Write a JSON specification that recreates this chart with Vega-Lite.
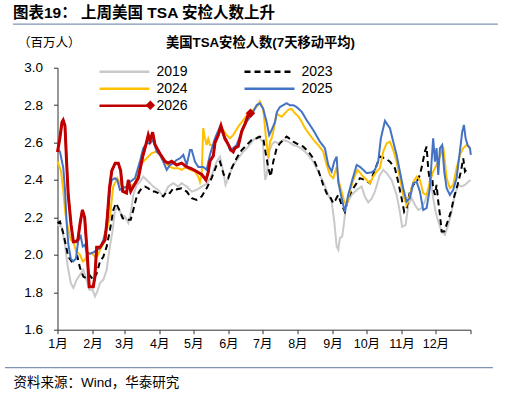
{
  "$schema": "https://vega.github.io/schema/vega-lite/v6.json",
  "width": 413,
  "height": 262,
  "autosize": {"type": "none"},
  "padding": {"left": 57.5, "top": 67.7, "right": 42.5, "bottom": 66.3},
  "background": "white",
  "title": {
    "text": "图表19：  上周美国 TSA 安检人数上升",
    "anchor": "start",
    "frame": "group",
    "dx": -44.5,
    "dy": -1.5,
    "offset": 0,
    "fontSize": 15.5,
    "fontWeight": "bold",
    "font": "Liberation Sans, Noto Sans CJK SC",
    "color": "#000000"
  },
  "datasets": {
    "tsa": [
      {"s":"2019","d":0,"v":2.16},{"s":"2019","d":3.7,"v":2.15},{"s":"2019","d":6.6,"v":2.054},{"s":"2019","d":9,"v":1.94},{"s":"2019","d":11.7,"v":1.85},{"s":"2019","d":14,"v":1.823},{"s":"2019","d":17,"v":1.867},{"s":"2019","d":19.9,"v":1.894},{"s":"2019","d":22.8,"v":1.92},{"s":"2019","d":25.2,"v":1.876},{"s":"2019","d":28.1,"v":1.814},{"s":"2019","d":31,"v":1.814},{"s":"2019","d":33.1,"v":1.778},{"s":"2019","d":35.2,"v":1.805},{"s":"2019","d":37.6,"v":1.85},{"s":"2019","d":40.5,"v":1.867},{"s":"2019","d":43.5,"v":1.92},{"s":"2019","d":45.8,"v":2.027},{"s":"2019","d":48.8,"v":2.134},{"s":"2019","d":50.8,"v":2.24},{"s":"2019","d":53.7,"v":2.25},{"s":"2019","d":56.7,"v":2.214},{"s":"2019","d":59.6,"v":2.205},{"s":"2019","d":62.6,"v":2.17},{"s":"2019","d":64.7,"v":2.223},{"s":"2019","d":67,"v":2.32},{"s":"2019","d":70,"v":2.374},{"s":"2019","d":72.9,"v":2.39},{"s":"2019","d":75.8,"v":2.418},{"s":"2019","d":78.8,"v":2.4},{"s":"2019","d":81.7,"v":2.383},{"s":"2019","d":84.6,"v":2.365},{"s":"2019","d":89,"v":2.347},{"s":"2019","d":93.5,"v":2.312},{"s":"2019","d":97.9,"v":2.365},{"s":"2019","d":102.3,"v":2.383},{"s":"2019","d":106.7,"v":2.365},{"s":"2019","d":109.7,"v":2.383},{"s":"2019","d":114.2,"v":2.365},{"s":"2019","d":118.6,"v":2.338},{"s":"2019","d":123,"v":2.347},{"s":"2019","d":127.4,"v":2.365},{"s":"2019","d":132,"v":2.38},{"s":"2019","d":136,"v":2.42},{"s":"2019","d":140.7,"v":2.498},{"s":"2019","d":143.6,"v":2.525},{"s":"2019","d":146.5,"v":2.445},{"s":"2019","d":148.5,"v":2.374},{"s":"2019","d":150.9,"v":2.41},{"s":"2019","d":155.3,"v":2.48},{"s":"2019","d":159.7,"v":2.516},{"s":"2019","d":164.2,"v":2.552},{"s":"2019","d":168.6,"v":2.578},{"s":"2019","d":173,"v":2.614},{"s":"2019","d":177.4,"v":2.632},{"s":"2019","d":181.5,"v":2.605},{"s":"2019","d":183.5,"v":2.4},{"s":"2019","d":185,"v":2.43},{"s":"2019","d":187,"v":2.55},{"s":"2019","d":189.5,"v":2.59},{"s":"2019","d":192,"v":2.605},{"s":"2019","d":195.1,"v":2.596},{"s":"2019","d":199.5,"v":2.614},{"s":"2019","d":203.9,"v":2.605},{"s":"2019","d":208.3,"v":2.587},{"s":"2019","d":212.8,"v":2.578},{"s":"2019","d":217.2,"v":2.56},{"s":"2019","d":221.6,"v":2.534},{"s":"2019","d":226,"v":2.498},{"s":"2019","d":230.4,"v":2.445},{"s":"2019","d":234.8,"v":2.39},{"s":"2019","d":239.3,"v":2.32},{"s":"2019","d":242.3,"v":2.285},{"s":"2019","d":244.6,"v":2.178},{"s":"2019","d":246.7,"v":2.045},{"s":"2019","d":248.1,"v":2.027},{"s":"2019","d":249.6,"v":2.09},{"s":"2019","d":251.6,"v":2.098},{"s":"2019","d":253.4,"v":2.178},{"s":"2019","d":254.8,"v":2.267},{"s":"2019","d":256.9,"v":2.285},{"s":"2019","d":259.9,"v":2.32},{"s":"2019","d":264.4,"v":2.347},{"s":"2019","d":268.8,"v":2.365},{"s":"2019","d":271.7,"v":2.31},{"s":"2019","d":274.6,"v":2.28},{"s":"2019","d":277.6,"v":2.3},{"s":"2019","d":280.5,"v":2.338},{"s":"2019","d":284.9,"v":2.427},{"s":"2019","d":287.9,"v":2.454},{"s":"2019","d":290.9,"v":2.437},{"s":"2019","d":295.3,"v":2.4},{"s":"2019","d":299.7,"v":2.32},{"s":"2019","d":302.6,"v":2.23},{"s":"2019","d":304.6,"v":2.15},{"s":"2019","d":307.7,"v":2.16},{"s":"2019","d":310,"v":2.267},{"s":"2019","d":313,"v":2.303},{"s":"2019","d":315.9,"v":2.267},{"s":"2019","d":318.8,"v":2.24},{"s":"2019","d":321.8,"v":2.25},{"s":"2019","d":324.7,"v":2.285},{"s":"2019","d":327.6,"v":2.338},{"s":"2019","d":330.6,"v":2.374},{"s":"2019","d":332,"v":2.303},{"s":"2019","d":334.2,"v":2.23},{"s":"2019","d":336.5,"v":2.178},{"s":"2019","d":339.5,"v":2.125},{"s":"2019","d":342.4,"v":2.107},{"s":"2019","d":345.3,"v":2.16},{"s":"2019","d":348.3,"v":2.23},{"s":"2019","d":351.2,"v":2.32},{"s":"2019","d":354.1,"v":2.374},{"s":"2019","d":357.1,"v":2.365},{"s":"2019","d":360.1,"v":2.374},{"s":"2019","d":363,"v":2.39},{"s":"2019","d":365,"v":2.4},

      {"s":"2023","d":0,"v":2.17},{"s":"2023","d":2.2,"v":2.178},{"s":"2023","d":5.1,"v":2.116},{"s":"2023","d":7.6,"v":2.045},{"s":"2023","d":9.5,"v":1.99},{"s":"2023","d":12.5,"v":1.965},{"s":"2023","d":15.5,"v":1.973},{"s":"2023","d":17.6,"v":1.99},{"s":"2023","d":19.9,"v":1.93},{"s":"2023","d":22.8,"v":1.884},{"s":"2023","d":25.2,"v":1.876},{"s":"2023","d":28.1,"v":1.894},{"s":"2023","d":31.6,"v":1.867},{"s":"2023","d":34.6,"v":1.9},{"s":"2023","d":37.6,"v":1.965},{"s":"2023","d":40.5,"v":1.99},{"s":"2023","d":43.5,"v":2.045},{"s":"2023","d":46.4,"v":2.134},{"s":"2023","d":49.3,"v":2.24},{"s":"2023","d":51.7,"v":2.276},{"s":"2023","d":54.6,"v":2.24},{"s":"2023","d":57.6,"v":2.196},{"s":"2023","d":61.1,"v":2.187},{"s":"2023","d":64.7,"v":2.187},{"s":"2023","d":67,"v":2.24},{"s":"2023","d":70,"v":2.312},{"s":"2023","d":72.3,"v":2.338},{"s":"2023","d":74.4,"v":2.356},{"s":"2023","d":77.3,"v":2.365},{"s":"2023","d":80.2,"v":2.356},{"s":"2023","d":83.2,"v":2.338},{"s":"2023","d":86.1,"v":2.338},{"s":"2023","d":89,"v":2.33},{"s":"2023","d":93.5,"v":2.312},{"s":"2023","d":96.5,"v":2.338},{"s":"2023","d":99.4,"v":2.33},{"s":"2023","d":102.3,"v":2.356},{"s":"2023","d":105.3,"v":2.35},{"s":"2023","d":109.7,"v":2.356},{"s":"2023","d":114.2,"v":2.338},{"s":"2023","d":118.6,"v":2.303},{"s":"2023","d":123,"v":2.294},{"s":"2023","d":127.4,"v":2.312},{"s":"2023","d":131.8,"v":2.356},{"s":"2023","d":136.2,"v":2.41},{"s":"2023","d":140.7,"v":2.48},{"s":"2023","d":143.6,"v":2.498},{"s":"2023","d":147,"v":2.427},{"s":"2023","d":150.9,"v":2.41},{"s":"2023","d":153.9,"v":2.463},{"s":"2023","d":158.3,"v":2.516},{"s":"2023","d":162.8,"v":2.56},{"s":"2023","d":167.2,"v":2.587},{"s":"2023","d":171.6,"v":2.614},{"s":"2023","d":176,"v":2.623},{"s":"2023","d":178.9,"v":2.632},{"s":"2023","d":181.8,"v":2.623},{"s":"2023","d":183.3,"v":2.57},{"s":"2023","d":186.3,"v":2.463},{"s":"2023","d":188.4,"v":2.418},{"s":"2023","d":190.7,"v":2.498},{"s":"2023","d":193.7,"v":2.57},{"s":"2023","d":196.6,"v":2.596},{"s":"2023","d":199.5,"v":2.614},{"s":"2023","d":202.5,"v":2.632},{"s":"2023","d":205.4,"v":2.62},{"s":"2023","d":208.3,"v":2.605},{"s":"2023","d":212.8,"v":2.59},{"s":"2023","d":217.2,"v":2.578},{"s":"2023","d":221.6,"v":2.552},{"s":"2023","d":226,"v":2.516},{"s":"2023","d":230.4,"v":2.454},{"s":"2023","d":234.8,"v":2.374},{"s":"2023","d":238.5,"v":2.32},{"s":"2023","d":240.8,"v":2.312},{"s":"2023","d":243.7,"v":2.276},{"s":"2023","d":245.8,"v":2.294},{"s":"2023","d":248.1,"v":2.32},{"s":"2023","d":251.1,"v":2.267},{"s":"2023","d":254,"v":2.23},{"s":"2023","d":256.9,"v":2.303},{"s":"2023","d":260.5,"v":2.347},{"s":"2023","d":264.4,"v":2.383},{"s":"2023","d":267.3,"v":2.41},{"s":"2023","d":271.7,"v":2.4},{"s":"2023","d":276.1,"v":2.383},{"s":"2023","d":280.5,"v":2.454},{"s":"2023","d":284.9,"v":2.525},{"s":"2023","d":289.4,"v":2.516},{"s":"2023","d":293.8,"v":2.498},{"s":"2023","d":298.2,"v":2.463},{"s":"2023","d":301.1,"v":2.39},{"s":"2023","d":304.1,"v":2.303},{"s":"2023","d":306.4,"v":2.23},{"s":"2023","d":308.5,"v":2.25},{"s":"2023","d":311.5,"v":2.338},{"s":"2023","d":314.4,"v":2.374},{"s":"2023","d":317.4,"v":2.39},{"s":"2023","d":320.3,"v":2.427},{"s":"2023","d":322.3,"v":2.48},{"s":"2023","d":324.7,"v":2.552},{"s":"2023","d":326.2,"v":2.578},{"s":"2023","d":327.6,"v":2.463},{"s":"2023","d":329.1,"v":2.39},{"s":"2023","d":330.6,"v":2.445},{"s":"2023","d":332,"v":2.356},{"s":"2023","d":333.6,"v":2.32},{"s":"2023","d":335,"v":2.374},{"s":"2023","d":336.5,"v":2.285},{"s":"2023","d":338,"v":2.214},{"s":"2023","d":339.5,"v":2.125},{"s":"2023","d":341.8,"v":2.125},{"s":"2023","d":344.8,"v":2.178},{"s":"2023","d":347.7,"v":2.23},{"s":"2023","d":350.6,"v":2.312},{"s":"2023","d":353.6,"v":2.374},{"s":"2023","d":356.5,"v":2.445},{"s":"2023","d":358.6,"v":2.516},{"s":"2023","d":360.1,"v":2.445},{"s":"2023","d":362.4,"v":2.463},

      {"s":"2024","d":0,"v":2.5},{"s":"2024","d":3,"v":2.45},{"s":"2024","d":5,"v":2.35},{"s":"2024","d":7,"v":2.22},{"s":"2024","d":9,"v":2.15},{"s":"2024","d":11.7,"v":2.08},{"s":"2024","d":14,"v":2.07},{"s":"2024","d":16.3,"v":2.02},{"s":"2024","d":19.9,"v":2.0},{"s":"2024","d":22.3,"v":1.965},{"s":"2024","d":24.3,"v":1.973},{"s":"2024","d":26.3,"v":2.01},{"s":"2024","d":30,"v":2.01},{"s":"2024","d":33.1,"v":1.99},{"s":"2024","d":35,"v":1.99},{"s":"2024","d":37.6,"v":2.027},{"s":"2024","d":40.5,"v":2.063},{"s":"2024","d":43.5,"v":2.134},{"s":"2024","d":46.4,"v":2.205},{"s":"2024","d":48,"v":2.3},{"s":"2024","d":49.3,"v":2.365},{"s":"2024","d":52.8,"v":2.41},{"s":"2024","d":56,"v":2.374},{"s":"2024","d":59.5,"v":2.36},{"s":"2024","d":64.1,"v":2.365},{"s":"2024","d":68.5,"v":2.383},{"s":"2024","d":72.9,"v":2.48},{"s":"2024","d":75.8,"v":2.498},{"s":"2024","d":78.8,"v":2.516},{"s":"2024","d":83.2,"v":2.543},{"s":"2024","d":87.6,"v":2.552},{"s":"2024","d":90.6,"v":2.534},{"s":"2024","d":95,"v":2.49},{"s":"2024","d":99.4,"v":2.47},{"s":"2024","d":102.3,"v":2.463},{"s":"2024","d":106.7,"v":2.463},{"s":"2024","d":109.7,"v":2.454},{"s":"2024","d":114.2,"v":2.47},{"s":"2024","d":117.1,"v":2.454},{"s":"2024","d":121.5,"v":2.445},{"s":"2024","d":124.4,"v":2.418},{"s":"2024","d":125.9,"v":2.39},{"s":"2024","d":127.4,"v":2.43},{"s":"2024","d":128.8,"v":2.677},{"s":"2024","d":130.3,"v":2.623},{"s":"2024","d":131.8,"v":2.587},{"s":"2024","d":133.2,"v":2.62},{"s":"2024","d":134.7,"v":2.587},{"s":"2024","d":137.7,"v":2.587},{"s":"2024","d":140.7,"v":2.623},{"s":"2024","d":143.6,"v":2.685},{"s":"2024","d":146.5,"v":2.667},{"s":"2024","d":149.5,"v":2.64},{"s":"2024","d":152.4,"v":2.623},{"s":"2024","d":155.3,"v":2.64},{"s":"2024","d":159.7,"v":2.685},{"s":"2024","d":164.2,"v":2.72},{"s":"2024","d":168.6,"v":2.757},{"s":"2024","d":173,"v":2.775},{"s":"2024","d":177.4,"v":2.8},{"s":"2024","d":178.9,"v":2.82},{"s":"2024","d":181.8,"v":2.78},{"s":"2024","d":184,"v":2.64},{"s":"2024","d":186.3,"v":2.52},{"s":"2024","d":187.8,"v":2.605},{"s":"2024","d":189.3,"v":2.623},{"s":"2024","d":190.7,"v":2.658},{"s":"2024","d":193.7,"v":2.757},{"s":"2024","d":195.1,"v":2.748},{"s":"2024","d":198.1,"v":2.738},{"s":"2024","d":201,"v":2.757},{"s":"2024","d":203.9,"v":2.775},{"s":"2024","d":206.9,"v":2.78},{"s":"2024","d":209.8,"v":2.757},{"s":"2024","d":212.8,"v":2.74},{"s":"2024","d":215.8,"v":2.712},{"s":"2024","d":218.7,"v":2.677},{"s":"2024","d":223.1,"v":2.64},{"s":"2024","d":227.5,"v":2.605},{"s":"2024","d":230.4,"v":2.587},{"s":"2024","d":234.8,"v":2.552},{"s":"2024","d":237.9,"v":2.48},{"s":"2024","d":240.8,"v":2.427},{"s":"2024","d":243.7,"v":2.41},{"s":"2024","d":246.7,"v":2.47},{"s":"2024","d":248.7,"v":2.39},{"s":"2024","d":251.1,"v":2.338},{"s":"2024","d":253.4,"v":2.285},{"s":"2024","d":255.5,"v":2.267},{"s":"2024","d":258.4,"v":2.338},{"s":"2024","d":261.4,"v":2.4},{"s":"2024","d":265.2,"v":2.454},{"s":"2024","d":268.8,"v":2.427},{"s":"2024","d":273.2,"v":2.4},{"s":"2024","d":276.1,"v":2.383},{"s":"2024","d":279,"v":2.418},{"s":"2024","d":282,"v":2.445},{"s":"2024","d":284.9,"v":2.463},{"s":"2024","d":287.9,"v":2.552},{"s":"2024","d":290.9,"v":2.596},{"s":"2024","d":293.8,"v":2.605},{"s":"2024","d":296.7,"v":2.56},{"s":"2024","d":299.7,"v":2.498},{"s":"2024","d":302.6,"v":2.41},{"s":"2024","d":305.5,"v":2.32},{"s":"2024","d":308.5,"v":2.267},{"s":"2024","d":311.5,"v":2.32},{"s":"2024","d":314.4,"v":2.39},{"s":"2024","d":317.4,"v":2.418},{"s":"2024","d":320.3,"v":2.4},{"s":"2024","d":323.2,"v":2.33},{"s":"2024","d":326.2,"v":2.32},{"s":"2024","d":329.1,"v":2.39},{"s":"2024","d":332,"v":2.445},{"s":"2024","d":335,"v":2.48},{"s":"2024","d":338,"v":2.525},{"s":"2024","d":340.9,"v":2.578},{"s":"2024","d":343.9,"v":2.41},{"s":"2024","d":346.8,"v":2.356},{"s":"2024","d":349.7,"v":2.374},{"s":"2024","d":352.7,"v":2.463},{"s":"2024","d":355.6,"v":2.534},{"s":"2024","d":358.6,"v":2.57},{"s":"2024","d":361.5,"v":2.587},{"s":"2024","d":364.5,"v":2.57},

      {"s":"2025","d":0,"v":2.57},{"s":"2025","d":2.2,"v":2.55},{"s":"2025","d":5.1,"v":2.465},{"s":"2025","d":6.6,"v":2.35},{"s":"2025","d":8.1,"v":2.17},{"s":"2025","d":9.5,"v":2.06},{"s":"2025","d":11.7,"v":1.98},{"s":"2025","d":14,"v":1.965},{"s":"2025","d":16.3,"v":1.98},{"s":"2025","d":18.4,"v":2.08},{"s":"2025","d":20.5,"v":2.1},{"s":"2025","d":22.3,"v":2.045},{"s":"2025","d":24.3,"v":2.054},{"s":"2025","d":25.8,"v":2.01},{"s":"2025","d":28.7,"v":2.005},{"s":"2025","d":33,"v":2.018},{"s":"2025","d":37.6,"v":2.036},{"s":"2025","d":40.5,"v":2.08},{"s":"2025","d":43.5,"v":2.15},{"s":"2025","d":45,"v":2.25},{"s":"2025","d":46.4,"v":2.36},{"s":"2025","d":48,"v":2.4},{"s":"2025","d":50.8,"v":2.41},{"s":"2025","d":52.8,"v":2.4},{"s":"2025","d":55.2,"v":2.347},{"s":"2025","d":58.1,"v":2.356},{"s":"2025","d":61.1,"v":2.365},{"s":"2025","d":64.1,"v":2.39},{"s":"2025","d":68.5,"v":2.41},{"s":"2025","d":72.9,"v":2.5},{"s":"2025","d":75.8,"v":2.57},{"s":"2025","d":78.8,"v":2.596},{"s":"2025","d":81.7,"v":2.596},{"s":"2025","d":84.6,"v":2.614},{"s":"2025","d":87.6,"v":2.552},{"s":"2025","d":90.6,"v":2.534},{"s":"2025","d":93.5,"v":2.498},{"s":"2025","d":96.5,"v":2.454},{"s":"2025","d":99.4,"v":2.48},{"s":"2025","d":102.3,"v":2.49},{"s":"2025","d":105.3,"v":2.507},{"s":"2025","d":108.2,"v":2.516},{"s":"2025","d":111.2,"v":2.534},{"s":"2025","d":114.2,"v":2.48},{"s":"2025","d":117.1,"v":2.56},{"s":"2025","d":118.6,"v":2.56},{"s":"2025","d":121.5,"v":2.498},{"s":"2025","d":124.4,"v":2.47},{"s":"2025","d":128.8,"v":2.47},{"s":"2025","d":131.8,"v":2.454},{"s":"2025","d":134.7,"v":2.534},{"s":"2025","d":139.2,"v":2.623},{"s":"2025","d":143.6,"v":2.685},{"s":"2025","d":146.5,"v":2.64},{"s":"2025","d":149.5,"v":2.614},{"s":"2025","d":152.4,"v":2.56},{"s":"2025","d":155.3,"v":2.57},{"s":"2025","d":158.3,"v":2.587},{"s":"2025","d":162.8,"v":2.658},{"s":"2025","d":167.2,"v":2.712},{"s":"2025","d":171.6,"v":2.748},{"s":"2025","d":176,"v":2.8},{"s":"2025","d":178.9,"v":2.81},{"s":"2025","d":181.8,"v":2.78},{"s":"2025","d":184.8,"v":2.71},{"s":"2025","d":187.1,"v":2.64},{"s":"2025","d":189.3,"v":2.667},{"s":"2025","d":192.2,"v":2.71},{"s":"2025","d":194,"v":2.765},{"s":"2025","d":196.6,"v":2.79},{"s":"2025","d":199.5,"v":2.8},{"s":"2025","d":202.5,"v":2.81},{"s":"2025","d":205.4,"v":2.8},{"s":"2025","d":208.3,"v":2.8},{"s":"2025","d":211.3,"v":2.79},{"s":"2025","d":215.8,"v":2.765},{"s":"2025","d":220.2,"v":2.72},{"s":"2025","d":226,"v":2.667},{"s":"2025","d":231.9,"v":2.605},{"s":"2025","d":236.3,"v":2.57},{"s":"2025","d":239.3,"v":2.48},{"s":"2025","d":242.3,"v":2.445},{"s":"2025","d":244.6,"v":2.498},{"s":"2025","d":246.7,"v":2.525},{"s":"2025","d":248.1,"v":2.39},{"s":"2025","d":250.5,"v":2.32},{"s":"2025","d":252.5,"v":2.267},{"s":"2025","d":254,"v":2.23},{"s":"2025","d":256.9,"v":2.32},{"s":"2025","d":260.5,"v":2.4},{"s":"2025","d":264.4,"v":2.48},{"s":"2025","d":267.3,"v":2.47},{"s":"2025","d":270.2,"v":2.454},{"s":"2025","d":273.2,"v":2.437},{"s":"2025","d":277.6,"v":2.44},{"s":"2025","d":280.5,"v":2.454},{"s":"2025","d":283.4,"v":2.498},{"s":"2025","d":285.8,"v":2.623},{"s":"2025","d":287.9,"v":2.677},{"s":"2025","d":289.4,"v":2.716},{"s":"2025","d":291.8,"v":2.694},{"s":"2025","d":293.8,"v":2.677},{"s":"2025","d":296.7,"v":2.605},{"s":"2025","d":299.7,"v":2.534},{"s":"2025","d":302.6,"v":2.445},{"s":"2025","d":305.5,"v":2.356},{"s":"2025","d":308.5,"v":2.285},{"s":"2025","d":311.5,"v":2.303},{"s":"2025","d":314.4,"v":2.383},{"s":"2025","d":317.4,"v":2.39},{"s":"2025","d":320.3,"v":2.338},{"s":"2025","d":323.2,"v":2.24},{"s":"2025","d":326.2,"v":2.25},{"s":"2025","d":329.1,"v":2.356},{"s":"2025","d":330.6,"v":2.498},{"s":"2025","d":332,"v":2.623},{"s":"2025","d":333.6,"v":2.498},{"s":"2025","d":335,"v":2.57},{"s":"2025","d":336.5,"v":2.427},{"s":"2025","d":338,"v":2.57},{"s":"2025","d":340,"v":2.587},{"s":"2025","d":341.8,"v":2.445},{"s":"2025","d":343.9,"v":2.356},{"s":"2025","d":346.8,"v":2.32},{"s":"2025","d":349.7,"v":2.347},{"s":"2025","d":352.7,"v":2.41},{"s":"2025","d":355.6,"v":2.552},{"s":"2025","d":357.7,"v":2.658},{"s":"2025","d":359.2,"v":2.694},{"s":"2025","d":360.7,"v":2.623},{"s":"2025","d":362.4,"v":2.587},{"s":"2025","d":364.5,"v":2.57},{"s":"2025","d":365.3,"v":2.534},

      {"s":"2026","d":0,"v":2.55},{"s":"2026","d":2,"v":2.62},{"s":"2026","d":4,"v":2.71},{"s":"2026","d":5,"v":2.72},{"s":"2026","d":6.6,"v":2.69},{"s":"2026","d":8,"v":2.5},{"s":"2026","d":9.5,"v":2.32},{"s":"2026","d":12,"v":2.16},{"s":"2026","d":14,"v":2.07},{"s":"2026","d":16,"v":2.07},{"s":"2026","d":18,"v":2.08},{"s":"2026","d":20,"v":2.17},{"s":"2026","d":22,"v":2.24},{"s":"2026","d":24,"v":2.2},{"s":"2026","d":26,"v":2.03},{"s":"2026","d":28,"v":1.83},{"s":"2026","d":31.6,"v":1.83},{"s":"2026","d":33,"v":1.88},{"s":"2026","d":34.6,"v":2.04},{"s":"2026","d":37.6,"v":2.04},{"s":"2026","d":42,"v":2.08},{"s":"2026","d":44,"v":2.2},{"s":"2026","d":46,"v":2.36},{"s":"2026","d":48,"v":2.45},{"s":"2026","d":51,"v":2.49},{"s":"2026","d":53.7,"v":2.49},{"s":"2026","d":55.8,"v":2.45},{"s":"2026","d":57.6,"v":2.34},{"s":"2026","d":61,"v":2.33},{"s":"2026","d":62.6,"v":2.4},{"s":"2026","d":64.7,"v":2.34},{"s":"2026","d":67,"v":2.365},{"s":"2026","d":71.4,"v":2.41},{"s":"2026","d":75.3,"v":2.525},{"s":"2026","d":78.2,"v":2.59},{"s":"2026","d":80.2,"v":2.64},{"s":"2026","d":81.7,"v":2.61},{"s":"2026","d":84.1,"v":2.655},{"s":"2026","d":86.1,"v":2.59},{"s":"2026","d":90.6,"v":2.54},{"s":"2026","d":95,"v":2.5},{"s":"2026","d":97.9,"v":2.49},{"s":"2026","d":100.9,"v":2.5},{"s":"2026","d":105.3,"v":2.48},{"s":"2026","d":109.7,"v":2.49},{"s":"2026","d":114.2,"v":2.47},{"s":"2026","d":118.6,"v":2.46},{"s":"2026","d":123,"v":2.445},{"s":"2026","d":127.4,"v":2.43},{"s":"2026","d":131.2,"v":2.4},{"s":"2026","d":133.2,"v":2.44},{"s":"2026","d":134.7,"v":2.5},{"s":"2026","d":137.7,"v":2.53},{"s":"2026","d":139.2,"v":2.6},{"s":"2026","d":142.1,"v":2.64},{"s":"2026","d":144.5,"v":2.69},{"s":"2026","d":148,"v":2.62},{"s":"2026","d":150.9,"v":2.59},{"s":"2026","d":153.3,"v":2.56},{"s":"2026","d":155.3,"v":2.55},{"s":"2026","d":156.8,"v":2.57},{"s":"2026","d":159.7,"v":2.58},{"s":"2026","d":162.8,"v":2.66},{"s":"2026","d":165.7,"v":2.7},{"s":"2026","d":168.6,"v":2.748},{"s":"2026","d":170.5,"v":2.757}
    ],
    "one": [{}]
  },
  "data": {"name": "tsa"},
  "layer": [
    {
      "mark": {"type": "line", "strokeWidth": 2},
      "encoding": {
        "x": {
          "field": "d", "type": "quantitative",
          "scale": {"domain": [0, 365], "nice": false, "zero": false},
          "axis": {
            "orient": "bottom",
            "values": [0, 31, 59, 90, 120, 151, 181, 212, 243, 273, 304, 334, 365],
            "labelExpr": "datum.value >= 365 ? '' : (indexof([0,31,59,90,120,151,181,212,243,273,304,334], datum.value) + 1) + '月'",
            "grid": false, "domain": true, "domainColor": "#333333", "domainWidth": 1,
            "ticks": true, "tickColor": "#333333", "tickSize": 4,
            "labelFont": "Liberation Sans, Noto Sans CJK SC", "labelFontSize": 12.5, "labelColor": "#000000",
            "labelPadding": 4, "labelAngle": 0, "labelFlush": false, "labelOverlap": false,
            "title": "资料来源：Wind，华泰研究",
            "titleX": -44.5, "titleY": 53, "titleAlign": "left", "titleBaseline": "middle",
            "titleFont": "Liberation Sans, Noto Sans CJK SC", "titleFontSize": 13.5, "titleFontWeight": "normal", "titleColor": "#000000"
          }
        },
        "y": {
          "field": "v", "type": "quantitative",
          "scale": {"domain": [1.6, 3.0], "nice": false, "zero": false},
          "axis": {
            "values": [1.6, 1.8, 2.0, 2.2, 2.4, 2.6, 2.8, 3.0],
            "format": ".1f", "labelOverlap": false, "labelFlush": false,
            "grid": false, "domainColor": "#333333", "tickColor": "#333333", "tickSize": 4,
            "labelFont": "Liberation Sans", "labelFontSize": 13.5, "labelColor": "#000000", "labelPadding": 11,
            "title": "（百万人）", "titleAngle": 0, "titleX": -40, "titleY": -24.7, "titleAlign": "left", "titleBaseline": "middle",
            "titleFont": "Noto Sans CJK SC", "titleFontSize": 12.5, "titleFontWeight": "normal", "titleColor": "#000000"
          }
        },
        "color": {
          "field": "s", "type": "nominal",
          "scale": {"domain": ["2019", "2023", "2024", "2025", "2026"], "range": ["#C9C9C9", "#000000", "#FFC000", "#4472C4", "#C00000"]},
          "legend": {
            "orient": "none", "legendX": 60, "legendY": -3, "columns": 2, "direction": "horizontal", "title": null,
            "symbolType": "M-5,0H5", "symbolSize": 100, "symbolStrokeWidth": 2.5,
            "labelFont": "Liberation Sans", "labelFontSize": 14, "labelColor": "#000000", "labelOffset": 25,
            "columnPadding": 51, "rowPadding": 3, "padding": 0
          }
        },
        "strokeDash": {
          "field": "s", "type": "nominal",
          "scale": {"domain": ["2019", "2023", "2024", "2025", "2026"], "range": [[1, 0], [6, 4], [1, 0], [1, 0], [1, 0]]},
          "legend": {
            "orient": "none", "legendX": 60, "legendY": -3, "columns": 2, "direction": "horizontal", "title": null,
            "symbolType": "M-5,0H5", "symbolSize": 100, "symbolStrokeWidth": 2.5,
            "labelFont": "Liberation Sans", "labelFontSize": 14, "labelColor": "#000000", "labelOffset": 25,
            "columnPadding": 51, "rowPadding": 3, "padding": 0
          }
        }
      }
    },
    {
      "transform": [{"filter": "datum.s == '2026'"}],
      "mark": {"type": "line", "strokeWidth": 3},
      "encoding": {
        "x": {
          "field": "d", "type": "quantitative",
          "axis": {
            "orient": "top", "domain": false, "ticks": false, "labels": false, "grid": false,
            "title": "美国TSA安检人数(7天移动平均)",
            "titleX": 202.5, "titleY": -24.7, "titleAlign": "center", "titleBaseline": "middle",
            "titleFont": "Liberation Sans, Noto Sans CJK SC", "titleFontSize": 13.3, "titleFontWeight": "bold", "titleColor": "#000000"
          }
        },
        "y": {"field": "v", "type": "quantitative", "axis": null},
        "color": {"field": "s", "type": "nominal"}
      }
    },
    {
      "transform": [{"filter": "datum.s == '2026' && datum.d > 170"}],
      "mark": {"type": "point", "filled": true, "size": 90, "opacity": 1, "color": "#C00000"},
      "encoding": {
        "x": {"field": "d", "type": "quantitative", "axis": null},
        "y": {"field": "v", "type": "quantitative", "axis": null},
        "shape": {
          "field": "s", "type": "nominal",
          "scale": {"domain": ["2026"], "range": ["diamond"]},
          "legend": {
            "orient": "none", "legendX": 87.8, "legendY": 32.6, "title": null,
            "labelExpr": "''", "labelFontSize": 1, "labelOffset": 0, "labelLimit": 1,
            "symbolSize": 90, "symbolFillColor": "#C00000", "symbolStrokeColor": "#C00000", "symbolStrokeWidth": 0, "padding": 0
          }
        }
      }
    },
    {
      "data": {"name": "one"},
      "mark": {"type": "rule", "color": "#7F93B5", "strokeWidth": 1.2},
      "encoding": {
        "x": {"datum": -39.3, "type": "quantitative", "axis": null},
        "x2": {"datum": 389.2},
        "y": {"datum": 3.2332, "type": "quantitative", "axis": null}
      }
    },
    {
      "data": {"name": "one"},
      "mark": {"type": "rule", "color": "#7F93B5", "strokeWidth": 1.2},
      "encoding": {
        "x": {"datum": -46.4, "type": "quantitative", "axis": null},
        "x2": {"datum": 384.8},
        "y": {"datum": 1.3972, "type": "quantitative", "axis": null}
      }
    }
  ],
  "resolve": {"axis": {"x": "independent", "y": "independent"}},
  "config": {
    "view": {"stroke": null},
    "axis": {"grid": false}
  }
}
